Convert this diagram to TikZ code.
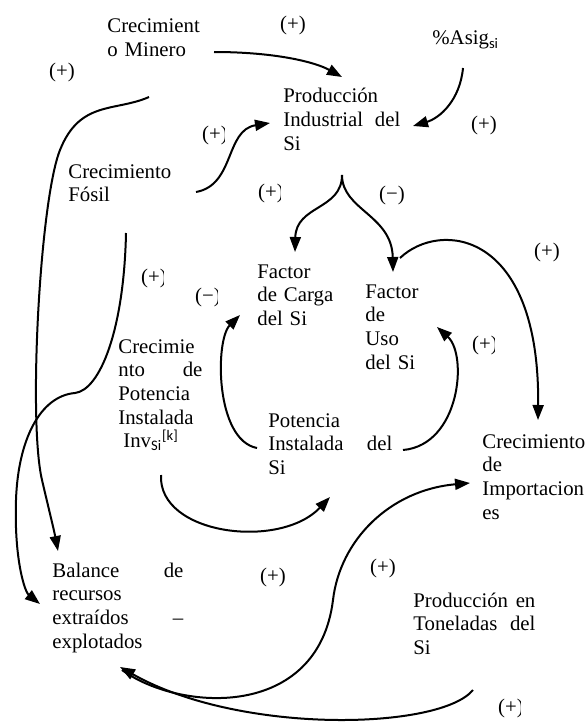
\documentclass[tikz,border=0pt]{standalone}
\usepackage{fontspec}
\setmainfont{Liberation Serif}
\newfontfamily\subfont{Carlito}
\usetikzlibrary{arrows.meta}

\tikzset{
	var/.style={inner sep=0pt, anchor=base west, align=left,
		font=\fontsize{10.4}{11.85}\selectfont},
	sign/.style={inner sep=0pt, font=\fontsize{10.4}{11.85}\selectfont},
	link/.style={line width=1pt, -{Triangle[length=7.5pt,width=5.5pt]}},
	rope/.style={line width=1pt}
}

% a sign whose right bracket is cut off
\newcommand{\cutsign}[4]{%
	\begin{scope}
		\clip (#2-15,#3-14) rectangle (#2+9,#3+14);
		\node[sign] (#1) at (#2,#3) {#4};
	\end{scope}}

\begin{document}
\begin{tikzpicture}[x=0.5pt, y=-0.5pt]

		\useasboundingbox (0,0) rectangle (587,722);

		% variables
		\node[var, text width=50pt] (minero) at (107,33) {Crecimient\\o Minero};
		\node[var, text width=58.5pt] (prod) at (283,103) {Producción\\Industrial\hfill del\\Si};
		\node[var, text width=40pt] (asig) at (432,45) {\%Asig\textsubscript{\subfont si}};
		\node[var, text width=55pt] (fosil) at (68,178) {Crecimiento\\Fósil};
		\node[var, text width=40pt] (carga) at (257,278) {Factor\\de Carga\\del Si};
		\node[var, text width=30pt] (uso) at (365,298) {Factor\\de\\Uso\\del Si};
		\node[var, text width=42pt] (potinst) at (118,353) {Crecimie\\nto\hfill de\\Potencia\\Instalada\\
			\hspace*{2.5pt}Inv\textsubscript{\subfont Si}\textsuperscript{\subfont [k]}};
		\node[var, text width=62pt] (potencia) at (268,427) {Potencia\\Instalada\hfill del\\Si};
		\node[var, text width=55pt] (import) at (482,448) {Crecimiento\\de\\Importacion\\es};
		\node[var, text width=65.5pt] (balance) at (52,577) {Balance\hfill de\\recursos\\extraídos\hfill –\\explotados};
		\node[var, text width=61pt] (tonel) at (413,607) {Producción\hfill en\\Toneladas\hfill del\\Si};

		% signs
		\node[sign] (s1) at (293,25) {(+)};
		\node[sign] (s2) at (62,72) {(+)};
		\node[sign] (s3) at (484,125) {(+)};
		\cutsign{s4}{215}{135}{(+)}
		\cutsign{s5}{271}{193}{(+)}
		\node[sign] (s6) at (392,195) {(−)};
		\node[sign] (s7) at (547,252) {(+)};
		\cutsign{s8}{154}{278}{(+)}
		\cutsign{s9}{208}{297}{(−)}
		\cutsign{s10}{485}{345}{(+)}
		\node[sign] (s11) at (273,577) {(+)};
		\node[sign] (s12) at (383,568) {(+)};
		\cutsign{s13}{511}{708}{(+)}

		% links
		\draw[link] ([shift={(107,19)}]minero.base west) .. controls (275,52) and (315,62) .. ([shift={(59,-26)}]prod.base west);
		\draw[link] ([shift={(31,23)}]asig.base west) .. controls (460,100) and (440,118) .. ([shift={(130,23)}]prod.base west);
		\draw[link] ([shift={(128,14)}]fosil.base west) .. controls (235,185) and (225,130) .. ([shift={(-13,20)}]prod.base west);
		\draw[link] ([shift={(59,72)}]prod.base west) .. controls (342,210) and (296,205) .. ([shift={(38,-26)}]carga.base west);
		\draw[link] ([shift={(59,72)}]prod.base west) .. controls (342,210) and (392,215) .. ([shift={(28,-26)}]uso.base west);
		\draw[link] ([shift={(35,-40)}]uso.base west) .. controls (440,220) and (540,230) .. ([shift={(56,-28)}]import.base west);
		\draw[link] ([shift={(-11,21)}]potencia.base west) .. controls (215,440) and (215,340) .. ([shift={(-17,37)}]carga.base west);
		\draw[link] ([shift={(135,23)}]potencia.base west) .. controls (460,445) and (468,355) .. ([shift={(72,29)}]uso.base west);
		\draw[link] ([shift={(43,122)}]potinst.base west) .. controls (158,535) and (280,550) .. ([shift={(62,70)}]potencia.base west);
		\draw[link] ([shift={(70,93)}]balance.base west) .. controls (180,712) and (318,720) .. (333,600)
			.. controls (340,540) and (390,490) .. ([shift={(-12,35)}]import.base west);
		\draw[link] ([shift={(60,83)}]tonel.base west) .. controls (440,730) and (240,735) .. ([shift={(68,90)}]balance.base west);
		\draw[link] ([shift={(42,64)}]minero.base west) .. controls (115,112) and (80,100) .. (60,150)
			.. controls (40,200) and (28,420) .. (42,480)
			.. controls (49,510) and (54,530) .. ([shift={(6,-26)}]balance.base west);
		\draw[link] ([shift={(58,55)}]fosil.base west) .. controls (124,330) and (100,390) .. (75,393)
			.. controls (40,396) and (18,440) .. (16,500)
			.. controls (14,560) and (25,592) .. ([shift={(-12,27)}]balance.base west);

\end{tikzpicture}
\end{document}
